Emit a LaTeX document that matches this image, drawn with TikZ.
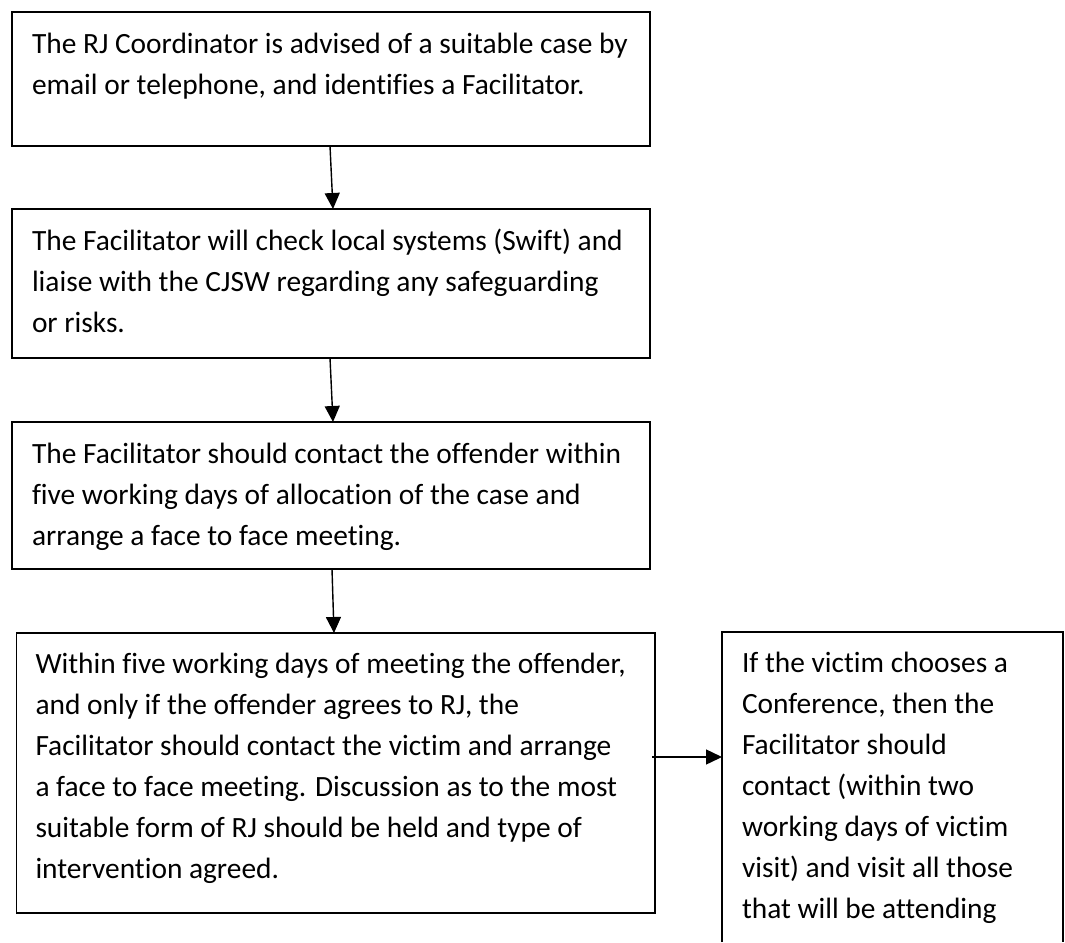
\documentclass[tikz,border=0pt]{standalone}
\usepackage{fontspec}
\setmainfont{Carlito}[Ligatures={NoCommon}]
\usetikzlibrary{arrows.meta}
\newcommand{\firstline}{\rule{0pt}{30pt}}
\tikzset{
  box/.style={draw=black, line width=1.4pt, inner sep=0pt, outer sep=0pt, anchor=north west},
  openbox/.style={inner sep=0pt, outer sep=0pt, anchor=north west},
  txt/.style={inner sep=0pt, outer sep=0pt, align=left, anchor=north west, text=black,
    font=\fontsize{29.4pt}{41pt}\selectfont},
  arr/.style={draw=black, line width=1.4pt, -{Triangle[length=16pt,width=15pt]}}
}
\begin{document}
\begin{tikzpicture}[x=1pt,y=-1pt]
\useasboundingbox[fill=white] (0,0) rectangle (1065,942);
% boxes
\node[box, minimum width=638pt, minimum height=134pt] (b1) at (12,12) {};
\node[box, minimum width=638pt, minimum height=149pt] (b2) at (12,209) {};
\node[box, minimum width=638pt, minimum height=147pt] (b3) at (12,422) {};
\node[box, minimum width=638.5pt, minimum height=280pt] (b4) at (16.5,633) {};
\node[openbox, minimum width=341pt, minimum height=310pt] (b5) at (722,632) {};
\draw[line width=1.4pt] (b5.south west) -- (b5.north west) -- (b5.north east) -- (b5.south east);
% texts
\node[txt] (t1) at ([xshift=20pt,yshift=-11pt]b1.north west)
  {\firstline The RJ Coordinator is advised of a suitable case by\\email or telephone, and identifies a Facilitator.};
\node[txt] (t2) at ([xshift=20pt,yshift=-11pt]b2.north west)
  {\firstline The Facilitator will check local systems (Swift) and\\liaise with the CJSW regarding any safeguarding\\or risks.};
\node[txt] (t3) at ([xshift=20pt,yshift=-11pt]b3.north west)
  {\firstline The Facilitator should contact the offender within\\five working days of allocation of the case and\\arrange a face to face meeting.};
\node[txt] (t4) at ([xshift=19pt,yshift=-10pt]b4.north west)
  {\firstline Within five working days of meeting the offender,\\and only if the offender agrees to RJ, the\\Facilitator should contact the victim and arrange\\a face to face meeting. Discussion as to the most\\suitable form of RJ should be held and type of\\intervention agreed.};
\node[txt] (t5) at ([xshift=20pt,yshift=-10pt]b5.north west)
  {\firstline If the victim chooses a\\Conference, then the\\Facilitator should\\contact (within two\\working days of victim\\visit) and visit all those\\that will be attending};
% connectors
\draw[arr] ([xshift=318pt]b1.south west) -- ([xshift=321pt]b2.north west);
\draw[arr] ([xshift=318pt]b2.south west) -- ([xshift=321pt]b3.north west);
\draw[arr] ([xshift=320pt]b3.south west) -- ([xshift=317.5pt]b4.north west);
\draw[arr] ([xshift=-3pt,yshift=16pt]b4.east) -- ([yshift=16pt]b4.east -| b5.west);
\end{tikzpicture}
\end{document}
